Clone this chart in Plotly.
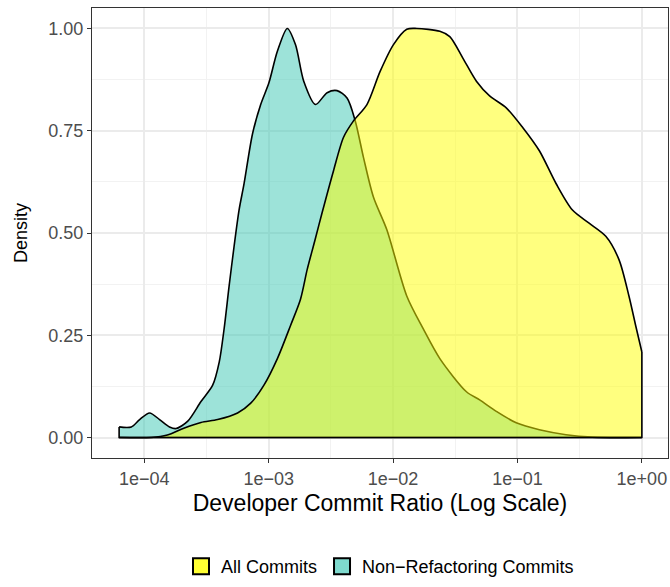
import numpy as np
import plotly.graph_objects as go

# Non-refactoring commits: log10(ratio) and scaled density
nonref_log10 = [-4.202, -4.104, -4.037, -3.957, -3.877, -3.797, -3.744, -3.650, -3.544, -3.450,
                -3.397, -3.358, -3.318, -3.278, -3.238, -3.198, -3.130, -3.064, -2.998, -2.930,
                -2.850, -2.784, -2.718, -2.624, -2.530, -2.450, -2.370, -2.304, -2.238, -2.158,
                -2.050, -1.890, -1.758, -1.624, -1.410, -1.304, -1.170, -1.010, -0.824, -0.610,
                -0.400, 0.000]
nonref_density = [0.026, 0.026, 0.044, 0.060, 0.044, 0.026, 0.022, 0.040, 0.088, 0.128,
                  0.185, 0.266, 0.370, 0.467, 0.556, 0.620, 0.742, 0.814, 0.867, 0.944,
                  1.000, 0.960, 0.871, 0.814, 0.843, 0.848, 0.830, 0.774, 0.685, 0.588,
                  0.508, 0.346, 0.266, 0.193, 0.112, 0.092, 0.064, 0.036, 0.019, 0.007,
                  0.001, 0.000]

# All commits
all_log10 = [-4.202, -3.944, -3.814, -3.682, -3.544, -3.410, -3.250, -3.144, -3.038, -2.930,
             -2.824, -2.744, -2.690, -2.630, -2.570, -2.478, -2.398, -2.318, -2.210, -2.104,
             -1.998, -1.890, -1.810, -1.624, -1.544, -1.438, -1.330, -1.224, -1.090, -0.958,
             -0.824, -0.690, -0.558, -0.424, -0.290, -0.184, -0.104, -0.050, 0.000]
all_density = [0.000, 0.000, 0.006, 0.023, 0.037, 0.044, 0.060, 0.084, 0.128, 0.193,
               0.274, 0.338, 0.411, 0.480, 0.550, 0.653, 0.734, 0.774, 0.814, 0.895,
               0.960, 0.998, 1.000, 0.993, 0.980, 0.927, 0.871, 0.835, 0.806, 0.758,
               0.701, 0.621, 0.556, 0.524, 0.492, 0.435, 0.346, 0.274, 0.209]

series_names = ["All Commits", "Non\u2212Refactoring Commits"]
x_tickvals = [1e-4, 1e-3, 1e-2, 1e-1, 1e0]
x_ticktext = ["1e\u221204", "1e\u221203", "1e\u221202", "1e\u221201", "1e+00"]
x_minor = [10**-3.5, 10**-2.5, 10**-1.5, 10**-0.5]
y_tickvals = [0, 0.25, 0.5, 0.75, 1.0]
y_ticktext = ["0.00", "0.25", "0.50", "0.75", "1.00"]
y_minor = [0.125, 0.375, 0.625, 0.875]

fills = ["rgba(255,255,0,0.5)", "rgba(60,200,180,0.5)"]
key_colors = ["#FFFF33", "#7FDACE"]
LW = 1.6


def add_density(fig, logs, dens, fillcolor):
    xs = 10 ** np.array(logs)
    ys = np.array(dens)
    # smooth upper curve with area down to zero
    fig.add_trace(go.Scatter(x=xs, y=ys, mode="lines", fill="tozeroy",
                             fillcolor=fillcolor, line=dict(color="black", width=LW, shape="spline", smoothing=0.8),
                             showlegend=False, hoverinfo="skip"))
    # outline of the closed polygon: vertical ends and baseline
    fig.add_trace(go.Scatter(x=[xs[0], xs[0], xs[-1], xs[-1]], y=[ys[0], 0.0, 0.0, ys[-1]],
                             mode="lines", line=dict(color="black", width=LW),
                             showlegend=False, hoverinfo="skip"))


fig = go.Figure()
add_density(fig, nonref_log10, nonref_density, fills[1])
add_density(fig, all_log10, all_density, fills[0])

# legend keys
for name, col in zip(series_names, key_colors):
    fig.add_trace(go.Scatter(x=[None], y=[None], mode="markers", name=name,
                             marker=dict(symbol="square", size=22, color=col,
                                         line=dict(color="black", width=2))))

font_family = "Liberation Sans, Arial, sans-serif"
fig.update_layout(
    width=670, height=587,
    margin=dict(l=92, r=2, t=8, b=121),
    paper_bgcolor="white", plot_bgcolor="white",
    font=dict(family=font_family, color="black"),
    showlegend=True,
    legend=dict(orientation="h", x=0.5, xanchor="center", y=-0.2, yanchor="top",
                font=dict(size=18, color="black"), itemwidth=30, itemsizing="trace",
                bgcolor="rgba(0,0,0,0)", traceorder="normal", tracegroupgap=0),
)
fig.update_xaxes(
    type="log", range=[-4.42, 0.21], automargin=False,
    tickvals=x_tickvals, ticktext=x_ticktext,
    tickfont=dict(size=18, color="#4D4D4D"),
    ticks="outside", ticklen=4, tickcolor="#333333", tickwidth=1.2,
    showgrid=True, gridcolor="#EBEBEB", gridwidth=1.5,
    minor=dict(tickvals=x_minor, showgrid=True, gridcolor="#F2F2F2", gridwidth=0.8, ticks=""),
    showline=True, linecolor="#333333", linewidth=1.2, mirror=True,
    zeroline=False,
    title=dict(text="Developer Commit Ratio (Log Scale)", font=dict(size=23, color="black"), standoff=7),
)
fig.update_yaxes(
    range=[-0.05, 1.05], automargin=False,
    tickvals=y_tickvals, ticktext=y_ticktext,
    tickfont=dict(size=18, color="#4D4D4D"),
    ticks="outside", ticklen=4, tickcolor="#333333", tickwidth=1.2,
    showgrid=True, gridcolor="#EBEBEB", gridwidth=1.5,
    minor=dict(tickvals=y_minor, showgrid=True, gridcolor="#F2F2F2", gridwidth=0.8, ticks=""),
    showline=True, linecolor="#333333", linewidth=1.2, mirror=True,
    zeroline=False,
    title=dict(text="Density", font=dict(size=18, color="black"), standoff=15),
)

fig.write_html("out.html",
               config={"displayModeBar": False},
               post_script="document.body.style.margin='0';document.body.style.overflow='hidden';")
